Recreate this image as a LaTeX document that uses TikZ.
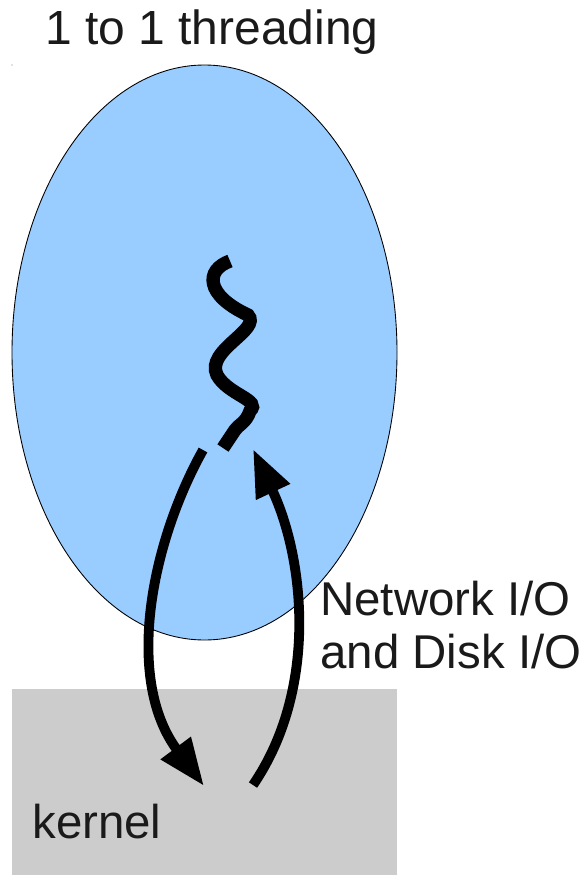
\documentclass[tikz,border=0pt]{standalone}
\usepackage{fontspec}
\setmainfont{Liberation Sans}
\usetikzlibrary{arrows.meta,shapes.geometric}
\definecolor{blob}{HTML}{99CCFF}
\definecolor{kern}{HTML}{CCCCCC}
\definecolor{ink}{HTML}{1A1A1A}
\begin{document}
\begin{tikzpicture}[x=0.02cm,y=-0.02cm,
  lbl/.style={anchor=base west,inner sep=0pt,text=ink},
  flow/.style={line width=5.6pt,-{Triangle[length=27pt,width=20pt]}},
  thread/.style={line width=7.6pt}]
\useasboundingbox (0,0) rectangle (584,875);
% kernel box
\node[fill=kern,draw=none,minimum width=385*0.02cm,minimum height=186*0.02cm,inner sep=0pt,anchor=north west] (kernelbox) at (12,689) {};
% process ellipse
\node[ellipse,fill=blob,draw=black,line width=0.5pt,minimum width=385*0.02cm,minimum height=575*0.02cm,inner sep=0pt] (proc) at (204.5,352.5) {};
% tiny dot
\fill[gray] (12,65) circle (0.4pt);
% texts
\node[lbl,font=\fontsize{27.3pt}{32pt}\selectfont] (title) at (45,45) {1 to 1 threading};
\node[lbl,font=\fontsize{27pt}{32pt}\selectfont] (io1) at (320,615) {Network I/O};
\node[lbl,font=\fontsize{27pt}{32pt}\selectfont] (io2) at (320,668) {and Disk I/O};
\node[lbl,font=\fontsize{27pt}{32pt}\selectfont] (kernel) at (32,838) {kernel};
% thread squiggle
\coordinate (t0) at (230,261);
\coordinate (t1) at (248,315);
\coordinate (t2) at (250,411);
\coordinate (t3) at (223,448);
\draw[thread] (t0) .. controls (205,270) and (205,295) .. (t1)
  .. controls (262,330) and (205,350) .. (217,375)
  .. controls (228,395) and (262,400) .. (t2)
  .. controls (246,423) and (238,425) .. (235,430) -- (t3);
% arrows
\coordinate (a0) at (203,450);
\coordinate (a1) at (204,786);
\coordinate (b0) at (253,785);
\coordinate (b1) at (253,449);
\draw[flow] (a0) .. controls (150,545) and (125,680) .. (a1);
\draw[flow] (b0) .. controls (318,690) and (305,560) .. (b1);
\end{tikzpicture}
\end{document}
